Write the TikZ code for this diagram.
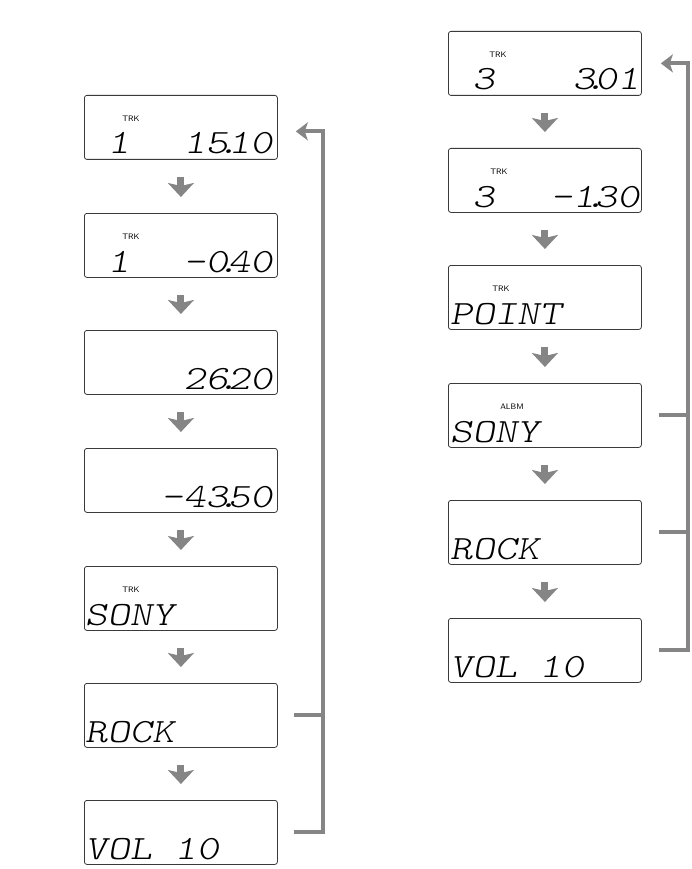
\documentclass[tikz,border=0pt]{standalone}
\usepackage{fontspec}
\usetikzlibrary{arrows.meta}
\definecolor{flowgray}{HTML}{858585}
\definecolor{lcdline}{HTML}{3A3A3A}
\newfontfamily\segfam{lmmonolt10-regular.otf}[FakeStretch=1.25,FakeSlant=0.18]
\newcommand\segf{\segfam\fontsize{34}{34}\selectfont}
\newcommand\dt{\makebox[0pt][c]{.}}
\newcommand\sq{\phantom{0}}
\tikzset{
  lcd/.style={draw=lcdline, line width=0.8pt, rounded corners=2.5pt, minimum width=193pt, minimum height=64pt, inner sep=0pt, anchor=north west},
  segL/.style={font=\segf, inner sep=0pt, anchor=base west},
  segR/.style={font=\segf, inner sep=0pt, anchor=base east},
  ind/.style={font=\sffamily\fontsize{8}{8}\selectfont, inner sep=0pt},
  downarr/.style={draw=flowgray, line width=7pt, shorten <=17pt, shorten >=16pt, -{Stealth[length=14pt,width=26pt,inset=3pt]}},
  loopline/.style={draw=flowgray, line width=4pt},
  looparr/.style={draw=flowgray, line width=4pt, -{Stealth[length=12pt,width=18pt,inset=3pt]}},
}
\begin{document}
\begin{tikzpicture}[x=1pt,y=-1pt]
\useasboundingbox (0,0) rectangle (692,869);

% ---------- left column ----------
\node[lcd] (L1) at (84,95) {};
\node[lcd] (L2) at (84,213) {};
\node[lcd] (L3) at (84,330) {};
\node[lcd] (L4) at (84,448) {};
\node[lcd] (L5) at (84,566) {};
\node[lcd] (L6) at (84,683) {};
\node[lcd] (L7) at (84,800) {};

\node[ind] (L1i) at (131,119) {TRK};
\node[segL] (L1a) at (85,154) {\sq 1};
\node[segR] (L1b) at (273,154) {15\dt 10};

\node[ind] (L2i) at (131,237) {TRK};
\node[segL] (L2a) at (85,272) {\sq 1};
\node[segR] (L2b) at (273,272) {-0\dt 40};

\node[segR] (L3b) at (273,389) {26\dt 20};

\node[segR] (L4b) at (273,507) {-43\dt 50};

\node[ind] (L5i) at (131,590) {TRK};
\node[segL] (L5a) at (85,625) {SONY};

\node[segL] (L6a) at (85,742) {ROCK};

\node[segL] (L7a) at (85,859) {VOL\sq 10};

\draw[downarr] (L1) -- (L2);
\draw[downarr] (L2) -- (L3);
\draw[downarr] (L3) -- (L4);
\draw[downarr] (L4) -- (L5);
\draw[downarr] (L5) -- (L6);
\draw[downarr] (L6) -- (L7);

\draw[loopline] ([xshift=16pt]L6.east) -- ([xshift=45pt]L6.east);
\draw[looparr] ([xshift=16pt]L7.east) -| ([xshift=45pt,yshift=-4pt]L1.east) -- ([xshift=18pt,yshift=-4pt]L1.east);

% ---------- right column ----------
\node[lcd] (R1) at (448,31) {};
\node[lcd] (R2) at (448,148) {};
\node[lcd] (R3) at (448,265) {};
\node[lcd] (R4) at (448,383) {};
\node[lcd] (R5) at (448,500) {};
\node[lcd] (R6) at (448,618) {};

\node[ind] (R1i) at (498,55) {TRK};
\node[segL] (R1a) at (450,90) {\sq 3};
\node[segR] (R1b) at (640,90) {3\dt 01};

\node[ind] (R2i) at (499,172) {TRK};
\node[segL] (R2a) at (450,207) {\sq 3};
\node[segR] (R2b) at (640,207) {-1\dt 30};

\node[ind] (R3i) at (501,289) {TRK};
\node[segL] (R3a) at (450,324) {POINT};

\node[ind] (R4i) at (512,407) {ALBM};
\node[segL] (R4a) at (450,442) {SONY};

\node[segL] (R5a) at (450,559) {ROCK};

\node[segL] (R6a) at (450,677) {VOL\sq 10};

\draw[downarr] (R1) -- (R2);
\draw[downarr] (R2) -- (R3);
\draw[downarr] (R3) -- (R4);
\draw[downarr] (R4) -- (R5);
\draw[downarr] (R5) -- (R6);

\draw[loopline] ([xshift=17pt]R4.east) -- ([xshift=46pt]R4.east);
\draw[loopline] ([xshift=17pt]R5.east) -- ([xshift=46pt]R5.east);
\draw[looparr] ([xshift=17pt]R6.east) -| ([xshift=46pt]R1.east) -- ([xshift=19pt]R1.east);
\end{tikzpicture}
\end{document}
